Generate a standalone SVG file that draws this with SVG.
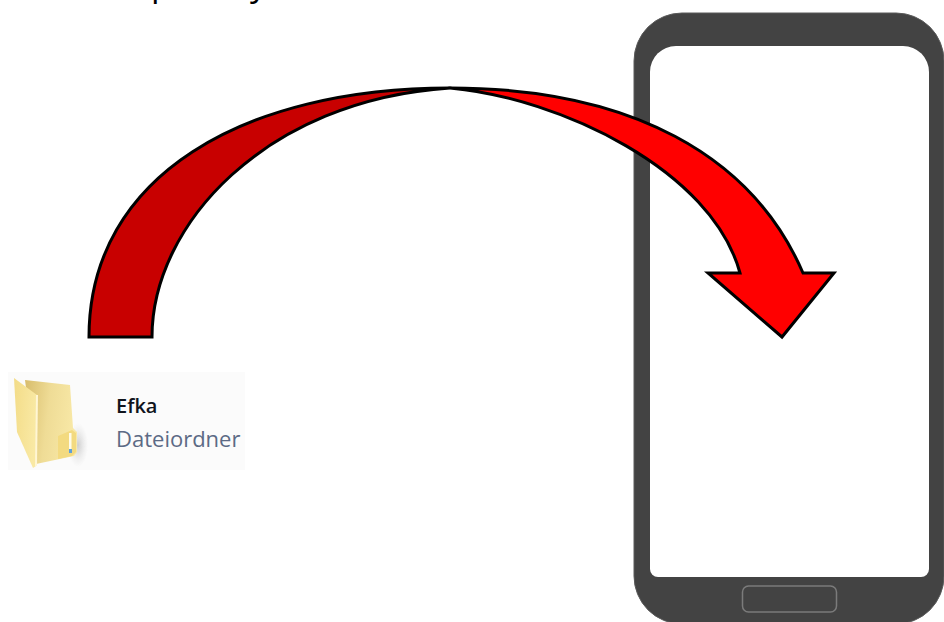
<svg xmlns="http://www.w3.org/2000/svg" width="944" height="622" viewBox="0 0 944 622">
<defs>
<style>
.arrow{stroke:#000;stroke-width:3;stroke-linejoin:miter}
.lbl{font-family:"Open Sans","Noto Sans",sans-serif}
</style>
<linearGradient id="fb" x1="0" y1="0" x2="1" y2="0.2"><stop offset="0" stop-color="#d8bd6c"/><stop offset="0.5" stop-color="#efdc96"/><stop offset="1" stop-color="#f8e8a6"/></linearGradient>
<linearGradient id="ff" x1="0" y1="0" x2="1" y2="0.3"><stop offset="0" stop-color="#f3dc88"/><stop offset="1" stop-color="#f9e9a4"/></linearGradient>
<radialGradient id="sh" cx="0.5" cy="0.5" r="0.5"><stop offset="0" stop-color="#aaa" stop-opacity="0.55"/><stop offset="1" stop-color="#ccc" stop-opacity="0"/></radialGradient>
<filter id="soft" x="-10%" y="-10%" width="120%" height="120%"><feGaussianBlur stdDeviation="0.7"/></filter>
</defs>
<rect width="944" height="622" fill="#fff"/>
<g id="heading-fragment" font-family="Open Sans, sans-serif" font-size="34" fill="#000">
<text x="151" y="-4">p</text>
<text x="250" y="-4">y</text>
</g>
<g id="phone">
<rect x="634" y="13" width="310" height="611" rx="48" ry="48" fill="#434343" stroke="#5a5a5a" stroke-width="1"/>
<path d="M676 46 H903 A26 26 0 0 1 929 72 V569 A8 8 0 0 1 921 577 H658 A8 8 0 0 1 650 569 V72 A26 26 0 0 1 676 46 Z" fill="#fff"/>
<rect x="742.5" y="586" width="94" height="26" rx="6" ry="6" fill="none" stroke="#7b7b7b" stroke-width="1.5"/>
</g>
<g id="folder">
<rect x="8" y="372" width="237" height="98" fill="#fbfbfb"/>
<g filter="url(#soft)">
<ellipse cx="78" cy="445" rx="10" ry="22" fill="url(#sh)"/>
<path d="M25 380 L70 385 L73 428 L77 432 L77 452 L74 456 L36 464 Z" fill="url(#fb)"/>
<path d="M58 436 L72 430 L76 433 L76 452 L72 456 L58 459 Z" fill="#f3da80"/>
<path d="M14 378 L37 395 L36 466 L33 468 L17 432 Z" fill="url(#ff)"/>
<path d="M37 395 L36 466" fill="none" stroke="#fff6d4" stroke-width="2"/>
<rect x="69" y="433" width="2.5" height="16" fill="#fffbe8"/>
<rect x="69" y="449" width="3" height="4" fill="#5fa0d8"/>
</g>
</g>
<g id="label">
<text class="lbl" x="116" y="413" font-size="20" font-weight="600" fill="#10141c">Efka</text>
<text class="lbl" x="116" y="447" font-size="22" fill="#5c6a85">Dateiordner</text>
</g>
<g id="connectors">
<path class="arrow" d="M89 337 C89 175 245 88 450 88 C265 100 152 225 152 337 Z" fill="#c80000"/>
<path class="arrow" d="M450 88 C630 88 752 155 803 273 L834 273 L782 337 L708 273 L740 273 C712 170 560 98 450 88 Z" fill="#ff0000"/>
</g>
</svg>
